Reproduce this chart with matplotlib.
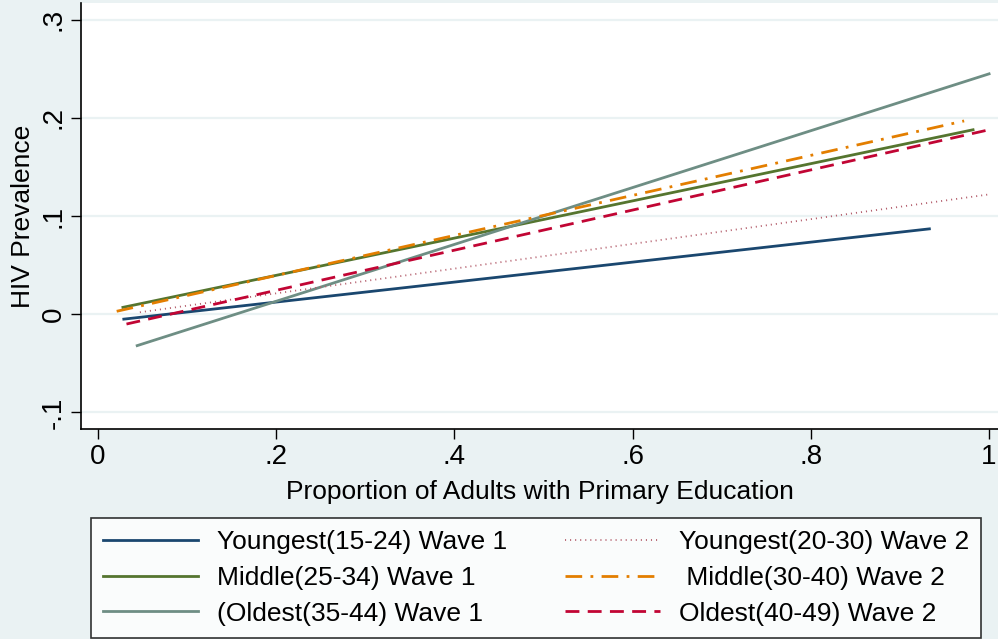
import matplotlib.pyplot as plt

# fitted lines: (x_start, x_end), (y_start, y_end)
young_w1_x = [0.029, 0.933]
young_w1_y = [-0.005, 0.087]
middle_w1_x = [0.028, 0.982]
middle_w1_y = [0.007, 0.188]
oldest_w1_x = [0.044, 1.0]
oldest_w1_y = [-0.032, 0.245]
young_w2_x = [0.047, 0.999]
young_w2_y = [0.002, 0.122]
middle_w2_x = [0.021, 0.972]
middle_w2_y = [0.003, 0.197]
oldest_w2_x = [0.032, 1.0]
oldest_w2_y = [-0.010, 0.188]

x_ticks = [0, 0.2, 0.4, 0.6, 0.8, 1.0]
x_tick_labels = ['0', '.2', '.4', '.6', '.8', '1']
y_ticks = [-0.1, 0, 0.1, 0.2, 0.3]
y_tick_labels = ['-.1', '0', '.1', '.2', '.3']

plt.rcParams['font.family'] = ['Liberation Sans', 'DejaVu Sans']

bg = '#eaf2f3'
fig = plt.figure(figsize=(9.98, 6.39), dpi=100, facecolor=bg)
ax = fig.add_axes([0.0812, 0.3286, 0.9188, 0.6664])
ax.set_facecolor('white')

for y in y_ticks:
    ax.axhline(y, color=bg, lw=1.6, zorder=0)

ax.plot(young_w1_x, young_w1_y, color='#1a476f', lw=2, label='Youngest(15-24) Wave 1')
ax.plot(middle_w1_x, middle_w1_y, color='#55752f', lw=2, label='Middle(25-34) Wave 1')
ax.plot(oldest_w1_x, oldest_w1_y, color='#6e8e84', lw=2, label='(Oldest(35-44) Wave 1')
ax.plot(young_w2_x, young_w2_y, color='#b5606e', lw=1.3, ls=(0, (0.6, 2.2)), label='Youngest(20-30) Wave 2')
ax.plot(middle_w2_x, middle_w2_y, color='#e37e00', lw=2, ls=(0, (6, 3, 1, 3)), label=' Middle(30-40) Wave 2')
ax.plot(oldest_w2_x, oldest_w2_y, color='#c10534', lw=2, ls=(0, (5, 3)), label='Oldest(40-49) Wave 2')

ax.set_xlim(-0.019, 1.01)
ax.set_ylim(-0.117, 0.317)
ax.set_xticks(x_ticks, x_tick_labels)
ax.set_yticks(y_ticks, y_tick_labels)
ax.tick_params(axis='both', direction='out', length=7, width=1, labelsize=20, colors='black')
ax.tick_params(axis='x', pad=4)
ax.tick_params(axis='y', labelrotation=90)
for lbl in ax.get_yticklabels():
    lbl.set_va('center')
for s in ['top', 'right']:
    ax.spines[s].set_visible(False)
for s in ['left', 'bottom']:
    ax.spines[s].set_linewidth(1.2)

ax.set_xlabel('Proportion of Adults with Primary Education', fontsize=19, labelpad=7)
ax.set_ylabel('HIV Prevalence', fontsize=19, labelpad=4)

handles, labels = ax.get_legend_handles_labels()
leg = fig.legend(handles, labels, loc='upper left', bbox_to_anchor=(0.0912, 1 - 518 / 639),
                 ncol=2, fontsize=19, frameon=True, fancybox=False, edgecolor='black',
                 handlelength=3.6, handletextpad=0.72, columnspacing=2.2, labelspacing=0.45,
                 borderpad=0.45, borderaxespad=0)
leg.get_frame().set_linewidth(1.2)
leg.get_frame().set_facecolor('white')

fig.savefig('out.png', dpi=100, facecolor=bg)
